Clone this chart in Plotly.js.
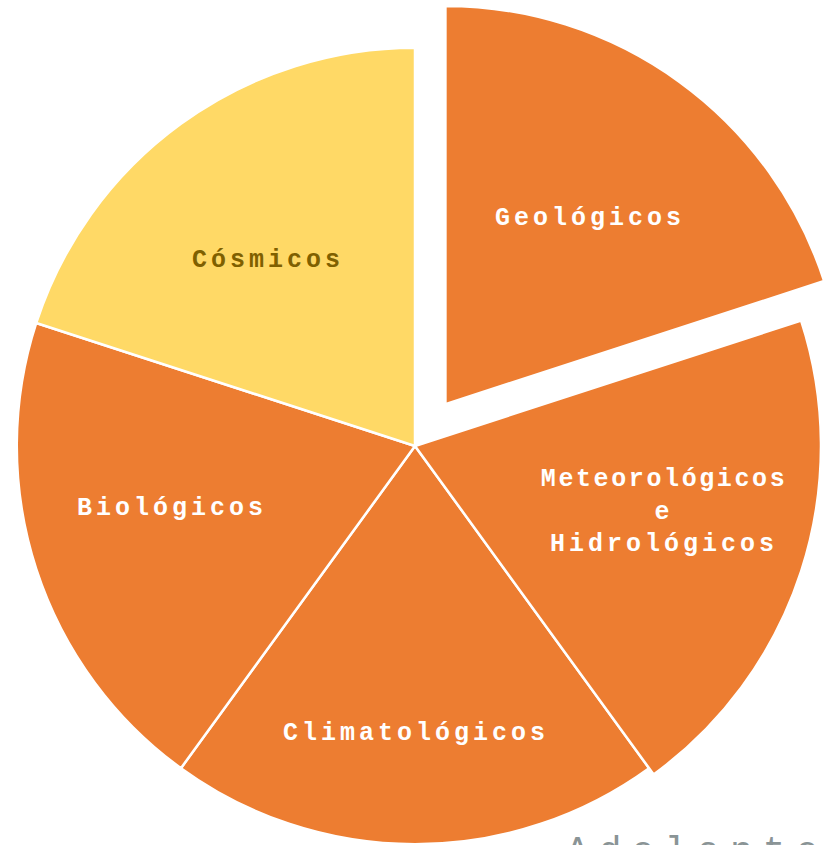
<!DOCTYPE html>
<html>
<head>
<meta charset="utf-8">
<script src="https://cdn.plot.ly/plotly-3.0.1.min.js"></script>
<style>
  html, body { margin: 0; padding: 0; width: 826px; height: 845px; overflow: hidden; background: #ffffff; }
  #wrap { position: relative; width: 826px; height: 845px; overflow: hidden; }
  #chart { position: absolute; left: -35px; top: -4px; width: 900px; height: 900px; }
  .annotation .annotation-text { letter-spacing: 4px; }
  .annotation[data-index="1"] .annotation-text tspan.line:first-child { letter-spacing: 2.6px; }
  .annotation[data-index="5"] .annotation-text { letter-spacing: 10px; }
</style>
</head>
<body>
<div id="wrap"><div id="chart"></div></div>
<script>
// Data
var categories = ["Geológicos", "Meteorológicos e Hidrológicos", "Climatológicos", "Biológicos", "Cósmicos"];
var labelTexts = ["Geológicos", "Meteorológicos<br>e<br>Hidrológicos", "Climatológicos", "Biológicos", "Cósmicos"];
var values = [1, 1, 1, 1, 1];
var pulls = [0.13, 0, 0, 0, 0];
var footerText = "Adelante";

// Styles
var sliceColors = ["#ED7D31", "#ED7D31", "#ED7D31", "#ED7D31", "#FFD966"];
var labelColors = ["#FFFFFF", "#FFFFFF", "#FFFFFF", "#FFFFFF", "#7F6000"];
// the "Meteorológicos" slice is drawn slightly larger in the reference
var bigSliceColors = ["rgba(0,0,0,0)", "#ED7D31", "rgba(0,0,0,0)", "rgba(0,0,0,0)", "rgba(0,0,0,0)"];
var bigSliceLines = [0, 2.5, 0, 0, 0];
// label centres in page pixels (layout)
var labelPos = [[590, 218], [664, 512], [416, 733], [172, 508], [268, 260]];
var offX = 35, offY = 4, W = 900, H = 900;

var annotations = labelTexts.map(function (t, i) {
  return {
    text: t,
    x: (labelPos[i][0] + offX) / W,
    y: 1 - (labelPos[i][1] + offY) / H,
    xref: "paper", yref: "paper",
    xanchor: "center", yanchor: "middle",
    showarrow: false,
    align: "center",
    font: { family: "Liberation Mono, Courier New, monospace", size: 25, color: labelColors[i], weight: "bold" }
  };
});
annotations.push({
  text: footerText,
  x: (697 + offX) / W,
  y: 1 - (829 + offY) / H,
  xref: "paper", yref: "paper",
  xanchor: "center", yanchor: "top",
  showarrow: false,
  font: { family: "Liberation Mono, Courier New, monospace", size: 38, color: "#8A9496" }
});

var trace = {
  type: "pie",
  labels: categories,
  values: values,
  pull: pulls,
  sort: false,
  direction: "clockwise",
  rotation: 0,
  textinfo: "none",
  hoverinfo: "skip",
  marker: { colors: sliceColors, line: { color: "#FFFFFF", width: 2.5 } },
  domain: { x: [0, 1], y: [0, 1] }
};

var overlay = {
  type: "pie",
  labels: categories,
  values: values,
  sort: false,
  direction: "clockwise",
  rotation: 0,
  textinfo: "none",
  hoverinfo: "skip",
  marker: { colors: bigSliceColors, line: { color: "#FFFFFF", width: bigSliceLines } },
  domain: { x: [0.0489, 0.9511], y: [0.0489, 0.9511] }
};

var layout = {
  width: W, height: H,
  margin: { l: 0, r: 0, t: 0, b: 0, pad: 0 },
  showlegend: false,
  paper_bgcolor: "#FFFFFF",
  plot_bgcolor: "#FFFFFF",
  annotations: annotations
};

Plotly.newPlot("chart", [trace, overlay], layout, { displayModeBar: false, staticPlot: true });
</script>
</body>
</html>
